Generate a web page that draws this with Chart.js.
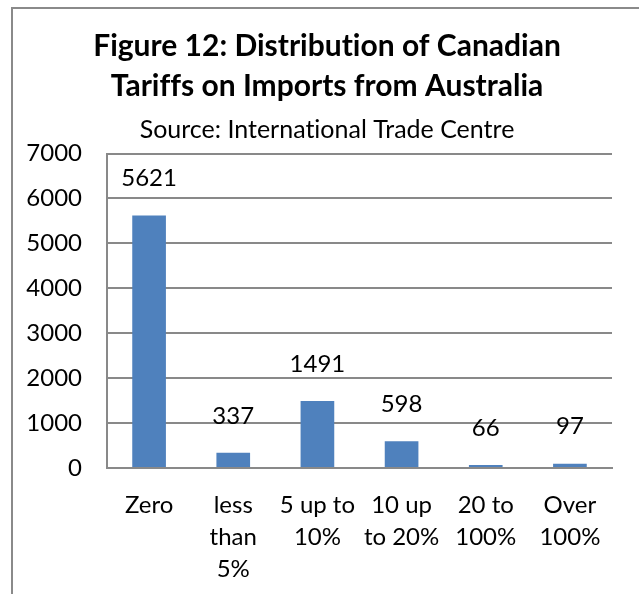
<!DOCTYPE html>
<html>
<head>
<meta charset="utf-8">
<script src="https://cdn.jsdelivr.net/npm/chart.js@4/dist/chart.umd.min.js"></script>
<style>
  html, body { margin: 0; padding: 0; background: #ffffff; overflow: hidden; width: 639px; height: 594px; }
  #frame {
    position: absolute; left: 11px; top: 7px;
    width: 628px; height: 587px;
    border-left: 2px solid #8a8a8a; border-top: 2px solid #8a8a8a;
    background: #ffffff;
  }
  canvas { display: block; }
</style>
</head>
<body>
<div id="frame"><canvas id="chart" width="628" height="587"></canvas></div>
<script>
// Tariff bands (label lines) and number of tariff lines in each band
const categories = [
  ['Zero'],
  ['less', 'than', '5%'],
  ['5 up to', '10%'],
  ['10 up', 'to 20%'],
  ['20 to', '100%'],
  ['Over', '100%']
];
const tariffLines = [5621, 337, 1491, 598, 66, 97];
const yTicks = [0, 1000, 2000, 3000, 4000, 5000, 6000, 7000];

const titleLines = ['Figure 12: Distribution of Canadian', 'Tariffs on Imports from Australia'];
const sourceLine = 'Source: International Trade Centre';

const FONT = 'Lato, "Open Sans", sans-serif';
const GRID = '#898989';

// Plain glyphs, no "ti"/"fi" ligatures
const plainText = {
  id: 'plainText',
  beforeDraw(chart) { chart.ctx.textRendering = 'optimizeSpeed'; }
};

// Value printed above each bar
const valueLabels = {
  id: 'valueLabels',
  afterDatasetsDraw(chart, args, opts) {
    const ctx = chart.ctx;
    const meta = chart.getDatasetMeta(0);
    ctx.save();
    ctx.font = opts.size + 'px ' + FONT;
    ctx.fillStyle = '#000000';
    ctx.textAlign = 'center';
    ctx.textBaseline = 'middle';
    meta.data.forEach((bar, i) => {
      const v = chart.data.datasets[0].data[i];
      ctx.fillText(String(v), bar.x, bar.y - opts.lift);
    });
    ctx.restore();
  }
};

new Chart(document.getElementById('chart'), {
  type: 'bar',
  data: {
    labels: categories,
    datasets: [{
      data: tariffLines,
      backgroundColor: '#4f81bd',
      borderWidth: 0,
      categoryPercentage: 1,
      barPercentage: 0.4
    }]
  },
  options: {
    responsive: false,
    animation: false,
    devicePixelRatio: 1,
    layout: { padding: 0 },
    plugins: {
      legend: { display: false },
      tooltip: { enabled: false },
      title: {
        display: true,
        text: titleLines,
        color: '#000000',
        font: { family: FONT, size: 30, weight: 'bold', lineHeight: 40 / 30 },
        padding: { top: 17, bottom: 0 }
      },
      subtitle: {
        display: true,
        text: sourceLine,
        color: '#000000',
        font: { family: FONT, size: 25, lineHeight: 1.3 },
        padding: { top: 8, bottom: 7 }
      },
      valueLabels: { size: 24, lift: 37 }
    },
    scales: {
      x: {
        grid: { display: false, drawTicks: false },
        border: { display: true, color: GRID, width: 2 },
        ticks: {
          color: '#000000',
          font: { family: FONT, size: 24, lineHeight: 32 / 24 },
          padding: 21,
          maxRotation: 0,
          autoSkip: false
        },
        afterFit(scale) { scale.height = 128; }
      },
      y: {
        min: 0,
        max: 7000,
        afterBuildTicks(scale) { scale.ticks = yTicks.map(v => ({ value: v })); },
        grid: { color: GRID, lineWidth: 2, drawTicks: false },
        border: { display: true, color: GRID, width: 2 },
        ticks: {
          color: '#000000',
          font: { family: FONT, size: 24 },
          padding: 25,
          callback: v => String(v)
        },
        afterFit(scale) { scale.width = 94; }
      },
      // empty margin on the right of the plot
      yMargin: {
        position: 'right',
        min: 0,
        max: 7000,
        grid: { display: false, drawTicks: false },
        border: { display: false },
        ticks: { display: false },
        afterFit(scale) { scale.width = 29; }
      }
    }
  },
  plugins: [plainText, valueLabels]
});
</script>
</body>
</html>
